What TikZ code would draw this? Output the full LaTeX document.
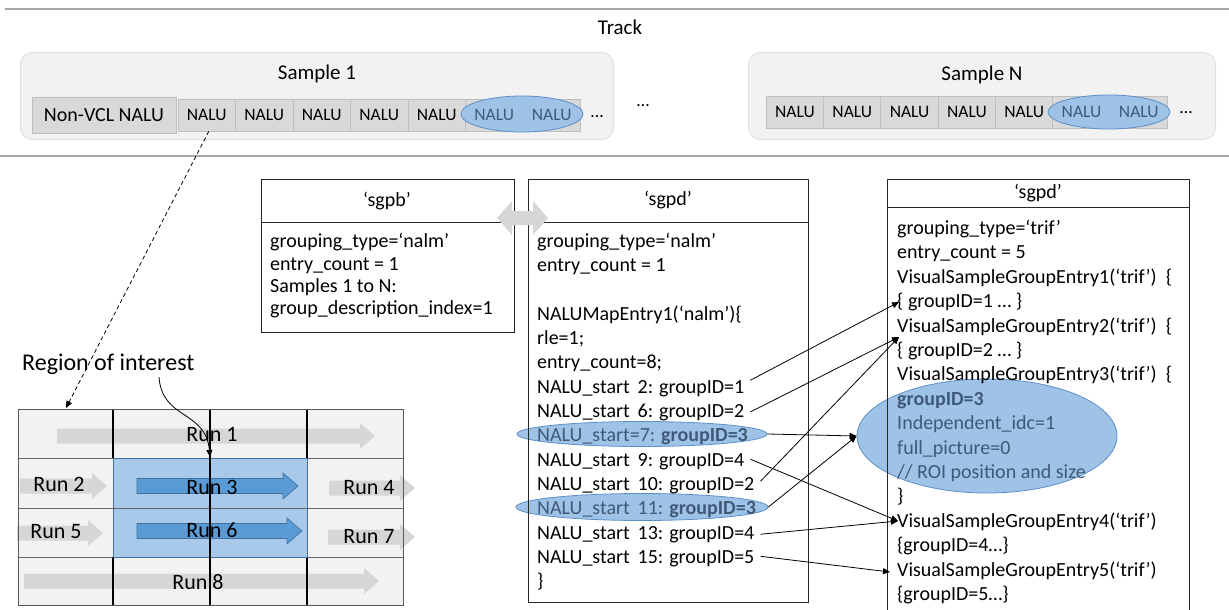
\documentclass[tikz,border=0pt]{standalone}
\usepackage{fontspec}
\setmainfont{Carlito}
\usetikzlibrary{arrows.meta,shapes.geometric,calc}
\definecolor{sepline}{HTML}{A6A6A6}
\definecolor{samplefill}{HTML}{F2F2F2}
\definecolor{sampleedge}{HTML}{E0E0E0}
\definecolor{cellfill}{HTML}{D9D9D9}
\definecolor{celledge}{HTML}{BFBFBF}
\definecolor{hlfill}{HTML}{9FC3E7}
\definecolor{hledge}{HTML}{5B8FC7}
\definecolor{hltext}{HTML}{3F5A78}
\definecolor{runblue}{HTML}{5B9BD5}
\definecolor{runblueedge}{HTML}{41719C}
\definecolor{rungray}{HTML}{D6D6D6}
\definecolor{roifill}{HTML}{A9C9EA}
\definecolor{gridfill}{HTML}{F2F2F2}
\newcommand{\runarrow}[4]{\fill[#1] (#2,#4-7.5) -- ({#3-15},#4-7.5) -- ({#3-15},#4-13) -- (#3,#4) -- ({#3-15},#4+13) -- ({#3-15},#4+7.5) -- (#2,#4+7.5) -- cycle;}
\begin{document}
\begin{tikzpicture}[x=1pt,y=-1pt,
  txt/.style={font=\fontsize{20}{24}\selectfont, inner sep=0pt, anchor=base west},
  ttl/.style={font=\fontsize{20}{24}\selectfont, inner sep=0pt},
  cell/.style={draw=celledge, fill=cellfill, line width=0.8pt, minimum width=57.5pt, minimum height=32pt, inner sep=0pt},
  celltxt/.style={font=\fontsize{17.5}{20}\selectfont, inner sep=0pt},
  samplebox/.style={draw=sampleedge, fill=samplefill, rounded corners=12pt, line width=1pt},
  hlell/.style={ellipse, draw=hledge, fill=hlfill, line width=0.8pt, inner sep=0pt},
  conn/.style={-{Triangle[length=7pt,width=6pt]}, line width=0.8pt},
  databox/.style={draw=black!85, line width=1pt},
  runlbl/.style={font=\fontsize{22}{26}\selectfont, inner sep=0pt},
  hl/.style={text=hltext}]
\useasboundingbox (0,0) rectangle (1229,610);

% ---------- Track ----------
\draw[sepline, line width=1.5pt] (5,9) -- (1229,9);
\draw[sepline, line width=1.5pt] (0,156) -- (1229,156);
\node[font=\fontsize{21}{24}\selectfont, inner sep=0pt] (track) at (620,27) {Track};

% Sample 1
\node[samplebox, minimum width=593pt, minimum height=87pt, anchor=north west] (s1) at (20,52) {};
\node[font=\fontsize{21}{24}\selectfont, inner sep=0pt] (s1lbl) at (317,74) {Sample 1};
\node[cell, minimum width=144pt, minimum height=36pt, font=\fontsize{20}{24}\selectfont] (nonvcl) at (104,115) {Non-VCL NALU};
\foreach \i in {0,...,6} {
  \node[cell] (a\i) at ({206.75+57.5*\i},115) {};
}
\node[hlell, minimum width=122pt, minimum height=36pt] (ea) at (522,114) {};
\foreach \i in {0,...,4} {
  \node[celltxt] (at\i) at (a\i) {NALU};
}
\node[celltxt, hl] (at5) at (a5) {NALU};
\node[celltxt, hl] (at6) at (a6) {NALU};
\node[font=\fontsize{18}{20}\selectfont, inner sep=0pt] (dots1) at (597,117) {…};

\node[font=\fontsize{18}{20}\selectfont, inner sep=0pt] (dotsm) at (643,106) {…};

% Sample N
\node[samplebox, minimum width=467pt, minimum height=87pt, anchor=north west] (sN) at (748,52) {};
\node[font=\fontsize{21}{24}\selectfont, inner sep=0pt] (sNlbl) at (982,75) {Sample N};
\foreach \i in {0,...,6} {
  \node[cell] (b\i) at ({795+57.3*\i},112) {};
}
\node[hlell, minimum width=122pt, minimum height=34pt] (eb) at (1109,112) {};
\foreach \i in {0,...,4} {
  \node[celltxt] (bt\i) at (b\i) {NALU};
}
\node[celltxt, hl] (bt5) at (b5) {NALU};
\node[celltxt, hl] (bt6) at (b6) {NALU};
\node[font=\fontsize{18}{20}\selectfont, inner sep=0pt] (dotsN) at (1186,113) {…};

% ---------- Region of interest grid ----------
\node[font=\fontsize{24}{28}\selectfont, inner sep=0pt, anchor=west] (roi) at (22,364) {Region of interest};
\fill[gridfill] (18,409) rectangle (403,605);
\fill[roifill] (113,458) rectangle (307,557);
\runarrow{rungray}{57}{375}{436}
\runarrow{rungray}{20}{107}{486}
\runarrow{rungray}{329}{415}{488}
\runarrow{rungray}{17}{103}{533}
\runarrow{rungray}{328}{415}{537}
\runarrow{rungray}{24}{379}{581}
\runarrow{fill=runblue, draw=runblueedge, line width=0.6pt}{137}{298}{486}
\runarrow{fill=runblue, draw=runblueedge, line width=0.6pt}{137}{302}{531}
\draw[black!60, line width=0.8pt] (18,458) -- (403,458) (18,508) -- (403,508) (18,557) -- (403,557);
\draw[black, line width=1.2pt] (113,409) -- (113,458) (113,557) -- (113,605) (307,409) -- (307,458) (307,557) -- (307,605);
\draw[runblueedge, line width=0.8pt] (113,458) rectangle (307,557);
\draw[black, line width=1.2pt] (210,409) -- (210,605);
\draw[black!65, line width=1pt] (18,409) rectangle (403,605);
\node[runlbl] (r1) at (212,434) {Run 1};
\node[runlbl] (r2) at (59,484) {Run 2};
\node[runlbl] (r3) at (212,487) {Run 3};
\node[runlbl] (r4) at (369,488) {Run 4};
\node[runlbl] (r5) at (56,532) {Run 5};
\node[runlbl] (r6) at (212,530) {Run 6};
\node[runlbl] (r7) at (369,537) {Run 7};
\node[runlbl] (r8) at (198,582) {Run 8};

\coordinate (roiStart) at (159,377);
\coordinate (roiEnd) at (210,457);
\draw[conn] (roiStart) .. controls (162,420) and (206,410) .. (roiEnd);
\coordinate (gridTarget) at (66,408);
\draw[conn, dash pattern=on 4pt off 3pt] ($(a0.south)+(2,0)$) -- (gridTarget);

% ---------- sgpb box ----------
\node[databox, minimum width=253pt, minimum height=153pt, anchor=north west] (sgpb) at (261,179) {};
\draw[black!85, line width=1pt] (261,222) -- (514,222);
\node[ttl] (sgpbT) at (387,201) {‘sgpb’};
\node[txt] (b1) at (270,247) {grouping\_type=‘nalm’};
\node[txt] (b2) at (270,270) {entry\_count = 1};
\node[txt] (b3) at (270,292) {Samples 1 to N:};
\node[txt] (b4) at (270,314) {group\_description\_index=1};

% ---------- middle sgpd box ----------
\node[hlell, minimum width=250pt, minimum height=25pt] (e7) at (642,434) {};
\node[hlell, minimum width=252pt, minimum height=27pt] (e11) at (642,507) {};
\node[databox, minimum width=280pt, minimum height=423pt, anchor=north west] (sgpdM) at (528,179) {};
\draw[black!85, line width=1pt] (528,222) -- (808,222);
\node[ttl] (sgpdMT) at (668,200) {‘sgpd’};
\node[txt] (m1) at (537,247) {grouping\_type=‘nalm’};
\node[txt] (m2) at (537,271) {entry\_count = 1};
\node[txt] (m3) at (537,320) {NALUMapEntry1(‘nalm’)\{};
\node[txt] (m4) at (537,344) {rle=1;};
\node[txt] (m5) at (537,368) {entry\_count=8;};
\node[txt] (m6) at (537,393) {NALU\_start\, 2: groupID=1};
\node[txt] (m7) at (537,417) {NALU\_start\, 6: groupID=2};
\node[txt, hl] (m8) at (537,441) {NALU\_start=7: \textbf{groupID=3}};
\node[txt] (m9) at (537,466) {NALU\_start\, 9: groupID=4};
\node[txt] (m10) at (537,490) {NALU\_start\, 10: groupID=2};
\node[txt, hl] (m11) at (537,514) {NALU\_start\, 11: \textbf{groupID=3}};
\node[txt] (m12) at (537,539) {NALU\_start\, 13: groupID=4};
\node[txt] (m13) at (537,563) {NALU\_start\, 15: groupID=5};
\node[txt] (m14) at (537,587) {\}};

% ---------- double arrow ----------
\fill[rungray] (497,218) -- (512,201) -- (512,211) -- (533,211) -- (533,201) -- (548,218)
  -- (533,235) -- (533,225) -- (512,225) -- (512,235) -- cycle;

% ---------- right sgpd box ----------
\node[hlell, minimum width=260pt, minimum height=114pt] (eR) at (987,436) {};
\node[databox, minimum width=302pt, minimum height=440pt, anchor=north west] (sgpdR) at (887,179) {};
\draw[black!85, line width=1pt] (887,207) -- (1189,207);
\node[ttl] (sgpdRT) at (1038,193) {‘sgpd’};
\node[txt] (q1) at (897,234) {grouping\_type=‘trif’};
\node[txt] (q2) at (897,258) {entry\_count = 5};
\node[txt] (q3) at (897,283) {VisualSampleGroupEntry1(‘trif’)\ \ \{};
\node[txt] (q4) at (897,307) {\{ groupID=1 … \}};
\node[txt] (q5) at (897,332) {VisualSampleGroupEntry2(‘trif’)\ \ \{};
\node[txt] (q6) at (897,356) {\{ groupID=2 … \}};
\node[txt] (q7) at (897,380) {VisualSampleGroupEntry3(‘trif’)\ \ \{};
\node[txt, hl] (q8) at (897,405) {\textbf{groupID=3}};
\node[txt, hl] (q9) at (897,429) {Independent\_idc=1};
\node[txt, hl] (q10) at (897,454) {full\_picture=0};
\node[txt, hl] (q11) at (897,478) {// ROI position and size};
\node[txt] (q12) at (897,502) {\}};
\node[txt] (q13) at (897,527) {VisualSampleGroupEntry4(‘trif’)};
\node[txt] (q14) at (897,551) {\{groupID=4…\}};
\node[txt] (q15) at (897,576) {VisualSampleGroupEntry5(‘trif’)};
\node[txt] (q16) at (897,600) {\{groupID=5…\}};

% ---------- connectors ----------
\coordinate (t1) at (899,302);
\coordinate (t2) at (899,337);
\coordinate (t4) at (898,521);
\coordinate (t5) at (890,572);
\draw[conn] ($(m6.east)+(6,-8)$) -- (t1);
\draw[conn] ($(m7.east)+(6,0)$) -- (t2);
\draw[conn] (e7.east) -- (eR.west);
\draw[conn] ($(m10.east)+(6,-4)$) -- (t2);
\draw[conn] (e11.east) -- (eR.west);
\draw[conn] ($(m9.east)+(6,-2)$) -- (t4);
\draw[conn] ($(m12.east)+(6,0)$) -- (t4);
\draw[conn] ($(m13.east)+(6,-2)$) -- (t5);
\end{tikzpicture}
\end{document}
